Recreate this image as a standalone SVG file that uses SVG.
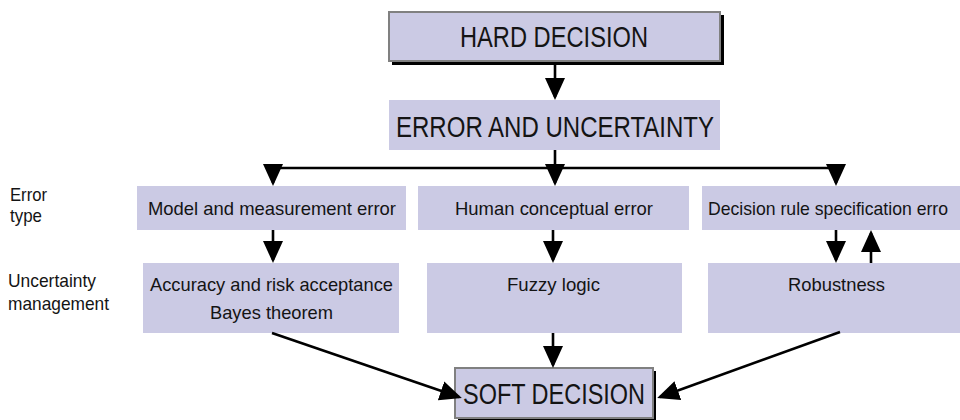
<svg xmlns="http://www.w3.org/2000/svg" width="960" height="420" viewBox="0 0 960 420">
<defs>
<style>
.box{fill:#cbcae4;}
.main{fill:#cbcae4;stroke:#808080;stroke-width:2;}
.shadow{fill:#000;}
.t{font-family:"Liberation Sans",Arial,sans-serif;fill:#141414;}
.big{font-size:29px;}
.sm{font-size:19px;}
.c{fill:none;stroke:#000;stroke-width:2.6;marker-end:url(#ah);}
.p{fill:none;stroke:#000;stroke-width:2.6;}
</style>
<marker id="ah" viewBox="0 0 22 20" refX="19" refY="10" markerWidth="22" markerHeight="20" markerUnits="userSpaceOnUse" orient="auto">
<path d="M0,0 L22,10 L0,20 z" fill="#000"/>
</marker>
</defs>
<rect width="960" height="420" fill="#fff"/>

<g id="labels">
<text class="t sm" x="10" y="201" textLength="37" lengthAdjust="spacingAndGlyphs">Error</text>
<text class="t sm" x="10" y="222" textLength="32" lengthAdjust="spacingAndGlyphs">type</text>
<text class="t sm" x="8" y="287" textLength="88" lengthAdjust="spacingAndGlyphs">Uncertainty</text>
<text class="t sm" x="8" y="310" textLength="101" lengthAdjust="spacingAndGlyphs">management</text>
</g>

<g id="hard">
<rect class="shadow" x="392" y="15" width="332" height="50"/>
<rect class="main" x="389" y="12" width="331" height="49"/>
<text class="t big" x="460" y="47" textLength="188" lengthAdjust="spacingAndGlyphs">HARD DECISION</text>
</g>

<g id="error-uncertainty">
<rect class="box" x="389" y="100" width="331" height="50"/>
<text class="t big" x="396" y="137" textLength="318" lengthAdjust="spacingAndGlyphs" style="font-size:30px">ERROR AND UNCERTAINTY</text>
</g>

<g id="model-error">
<rect class="box" x="137" y="186" width="269" height="44"/>
<text class="t sm" x="148" y="215" textLength="248" lengthAdjust="spacingAndGlyphs">Model and measurement error</text>
</g>

<g id="human-error">
<rect class="box" x="418" y="186" width="271" height="44"/>
<text class="t sm" x="455" y="215" textLength="198" lengthAdjust="spacingAndGlyphs">Human conceptual error</text>
</g>

<g id="rule-error">
<rect class="box" x="702" y="186" width="258" height="44"/>
<text class="t sm" x="708" y="215" textLength="240" lengthAdjust="spacingAndGlyphs">Decision rule specification erro</text>
</g>

<g id="accuracy">
<rect class="box" x="143" y="263" width="256" height="70"/>
<text class="t sm" x="150" y="291" textLength="243" lengthAdjust="spacingAndGlyphs">Accuracy and risk acceptance</text>
<text class="t sm" x="210" y="319" textLength="123" lengthAdjust="spacingAndGlyphs">Bayes theorem</text>
</g>

<g id="fuzzy">
<rect class="box" x="427" y="263" width="255" height="70"/>
<text class="t sm" x="507" y="291" textLength="93" lengthAdjust="spacingAndGlyphs">Fuzzy logic</text>
</g>

<g id="robustness">
<rect class="box" x="708" y="263" width="252" height="70"/>
<text class="t sm" x="788" y="291" textLength="97" lengthAdjust="spacingAndGlyphs">Robustness</text>
</g>

<g id="soft">
<rect class="shadow" x="458" y="371" width="198" height="49"/>
<rect class="main" x="455" y="368" width="198" height="50"/>
<text class="t big" x="463" y="404" textLength="182" lengthAdjust="spacingAndGlyphs">SOFT DECISION</text>
</g>

<g id="connectors">
<line class="c" x1="555" y1="62" x2="555" y2="97"/>
<line class="p" x1="555" y1="150" x2="555" y2="168"/>
<line class="p" x1="272" y1="168" x2="837" y2="168"/>
<line class="c" x1="273" y1="167" x2="273" y2="183"/>
<line class="c" x1="555" y1="167" x2="555" y2="183"/>
<line class="c" x1="836" y1="167" x2="836" y2="183"/>
<line class="c" x1="273" y1="230" x2="273" y2="260"/>
<line class="c" x1="553" y1="230" x2="553" y2="260"/>
<line class="c" x1="836" y1="230" x2="836" y2="260"/>
<line class="c" x1="871" y1="263" x2="871" y2="233"/>
<line class="c" x1="272" y1="333" x2="459" y2="397"/>
<line class="c" x1="553" y1="333" x2="553" y2="365"/>
<line class="c" x1="840" y1="332" x2="660" y2="397"/>
</g>
</svg>
